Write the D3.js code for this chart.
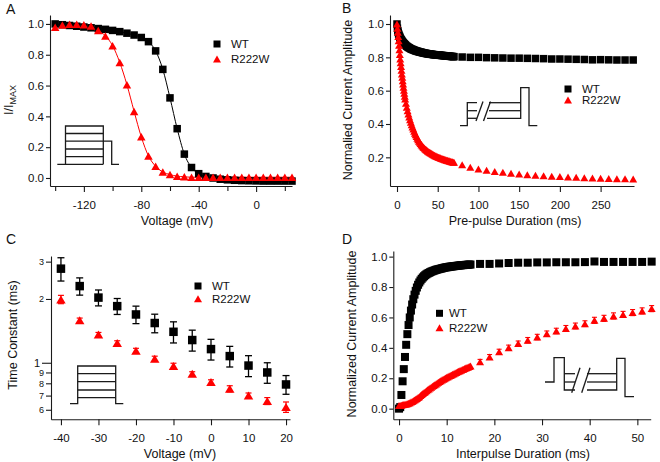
<!DOCTYPE html>
<html>
<head>
<meta charset="utf-8">
<script src="https://cdn.jsdelivr.net/npm/d3@7"></script>
<style>
  body { margin: 0; background: #fff; }
  svg { display: block; }
</style>
</head>
<body>
<script>
// Global settings
const width = 660, height = 462;
const FONT = '"Liberation Sans", Arial, Helvetica, sans-serif';
const RED = '#ff0000';
const INK = '#1a1a1a';

// ---- Panel A : steady-state inactivation ----
const voltA = [-140,-135,-130,-125,-120,-115,-110,-105,-100,-95,-90,-85,-80,-75,-70,-65,-60,-55,-50,-45,-40,-35,-30,-25,-20,-15,-10,-5,0,5,10,15,20,25];
const wtA = [1.0,0.995,0.99,0.985,0.98,0.975,0.97,0.965,0.958,0.95,0.94,0.928,0.912,0.885,0.825,0.705,0.52,0.32,0.155,0.068,0.028,0.01,0.0,-0.008,-0.012,-0.015,-0.017,-0.018,-0.019,-0.02,-0.02,-0.02,-0.02,-0.02];
const mutA = [0.978,0.993,0.998,0.998,0.995,0.987,0.957,0.922,0.859,0.75,0.605,0.432,0.267,0.143,0.076,0.039,0.022,0.012,0.008,0.005,0.005,0.005,0.005,0.005,0.005,0.005,0.005,0.005,0.005,0.005,0.005,0.005,0.005,0.005];
const ticksAx = [-120,-80,-40,0];
const minorAx = [-140,-100,-60,-20,20];
const ticksAy = [0,0.2,0.4,0.6,0.8,1.0];

// ---- Panel B : development of inactivation ----
const timeB = [0,0.5,1,1.5,2,2.5,3,3.5,4,4.5,5,5.5,6,6.5,7,7.5,8,8.5,9,9.5,10,
               11,12,13,14,15,16,17,18,19,20,21,22,23,24,25,26,27,28,29,30,
               31,32,33,34,35,36,37,38,39,40,41,42,43,44,45,46,47,48,49,50,
               51,52,53,54,55,56,57,58,59,60,61,62,63,64,65,66,67,68,69,70,
               80,90,100,110,120,130,140,150,160,170,180,190,200,210,220,230,240,250,260,270,280,290];
const wtB = [1.0,0.975,0.96,0.95,0.94,0.933,0.927,0.921,0.915,0.91,0.906,0.902,0.898,0.894,0.891,0.888,0.885,0.882,0.88,0.877,0.875,
             0.871,0.867,0.863,0.86,0.857,0.854,0.851,0.849,0.847,0.845,
             0.843,0.841,0.839,0.838,0.836,0.835,0.833,0.832,0.831,0.83,
             0.828,0.827,0.826,0.825,0.824,0.823,0.822,0.821,0.821,0.82,
             0.819,0.818,0.818,0.817,0.816,0.816,0.815,0.815,0.814,0.814,
             0.813,0.813,0.812,0.812,0.811,0.811,0.81,0.81,0.809,0.809,
             0.808,0.808,0.807,0.807,0.806,0.806,0.805,0.805,0.804,0.804,
             0.802,0.80,0.80,0.798,0.797,0.796,0.795,0.795,0.794,0.793,0.792,0.79,0.79,0.789,0.788,0.787,0.785,0.786,0.785,0.784,0.784,0.784];
const mutB = [1.0,0.975,0.95,0.925,0.90,0.872,0.845,0.817,0.79,0.767,0.745,0.722,0.70,0.68,0.66,0.64,0.62,0.602,0.585,0.567,0.55,
              0.525,0.50,0.48,0.46,0.442,0.425,0.41,0.395,0.382,0.37,
              0.357,0.345,0.335,0.325,0.315,0.305,0.297,0.29,0.283,0.276,
              0.27,0.264,0.259,0.254,0.249,0.245,0.241,0.237,0.233,0.23,
              0.227,0.224,0.221,0.218,0.215,0.213,0.21,0.208,0.205,0.203,
              0.201,0.199,0.197,0.195,0.193,0.191,0.19,0.188,0.186,0.185,
              0.183,0.182,0.18,0.179,0.177,0.176,0.174,0.173,0.171,0.17,
              0.155,0.14,0.13,0.122,0.115,0.11,0.105,0.10,0.096,0.093,0.09,0.087,0.085,0.082,0.08,0.078,0.076,0.075,0.073,0.072,0.071,0.07];
const ticksBx = [0,50,100,150,200,250];
const ticksBy = [0.2,0.4,0.6,0.8,1.0];

// ---- Panel C : time constants ----
const voltC = [-40,-35,-30,-25,-20,-15,-10,-5,0,5,10,15,20];
const wtC = [2.78,2.30,2.03,1.85,1.69,1.54,1.40,1.28,1.16,1.075,0.97,0.90,0.79];
const wtCErr = [0.35,0.215,0.175,0.16,0.16,0.155,0.16,0.145,0.13,0.12,0.11,0.10,0.08];
const mutC = [1.99,1.585,1.36,1.24,1.14,1.044,0.965,0.887,0.811,0.754,0.70,0.66,0.618];
const mutCErr = [0.09,0.04,0.03,0.03,0.03,0.03,0.03,0.02,0.02,0.025,0.02,0.025,0.035];
const ticksCx = [-40,-30,-20,-10,0,10,20];
const ticksCy = [0.6,0.7,0.8,0.9,1,2,3];
const labelsCy = ['6','7','8','9','1','2','3'];

// ---- Panel D : recovery from inactivation ----
const timeD = [0,0.25,0.5,0.75, 1,1.25,1.5,1.75, 2,2.25,2.5,2.75, 3,3.25,3.5,3.75, 4,4.25,4.5,4.75,
               5,5.25,5.5,5.75, 6,6.25,6.5,6.75, 7,7.25,7.5,7.75, 8,8.25,8.5,8.75, 9,9.25,9.5,9.75,
               10,10.25,10.5,10.75, 11,11.25,11.5,11.75, 12,12.25,12.5,12.75, 13,13.25,13.5,13.75, 14,14.25,14.5,14.75, 15,
               17,19,21,23,25,27,29,31,33,35,37,39,41,43,45,47,49,51,53];
const wtD = [0.0,0.01,0.09,0.18, 0.26,0.34,0.42,0.49, 0.55,0.60,0.645,0.685, 0.72,0.75,0.775,0.797, 0.815,0.83,0.843,0.854,
             0.863,0.871,0.878,0.884, 0.889,0.893,0.897,0.901, 0.904,0.907,0.91,0.913, 0.915,0.917,0.919,0.921, 0.923,0.925,0.927,0.929,
             0.93,0.931,0.933,0.934, 0.935,0.936,0.937,0.938, 0.939,0.94,0.941,0.942, 0.943,0.944,0.944,0.945, 0.946,0.946,0.947,0.948, 0.948,
             0.952,0.952,0.955,0.958,0.96,0.96,0.962,0.962,0.963,0.963,0.963,0.964,0.968,0.965,0.965,0.965,0.965,0.965,0.967];
const mutD = [0.02,0.021,0.023,0.025, 0.027,0.029,0.031,0.033, 0.036,0.039,0.043,0.047, 0.052,0.057,0.062,0.067, 0.073,0.079,0.086,0.093,
              0.1,0.106,0.112,0.118, 0.124,0.13,0.136,0.141, 0.147,0.152,0.158,0.163, 0.168,0.173,0.178,0.183, 0.188,0.193,0.197,0.202,
              0.206,0.21,0.214,0.218, 0.222,0.226,0.23,0.234, 0.238,0.242,0.246,0.25, 0.253,0.257,0.26,0.264, 0.267,0.271,0.274,0.278, 0.281,
              0.309,0.34,0.375,0.401,0.428,0.45,0.471,0.493,0.511,0.528,0.544,0.559,0.581,0.594,0.61,0.62,0.632,0.643,0.658];
const mutDErr = [0.015,0.016,0.016,0.017,0.017,0.018,0.018,0.018,0.018,0.019,0.019,0.019,0.02,0.02,0.02,0.02,0.02,0.02,0.02];
const ticksDx = [0,10,20,30,40,50];
const ticksDy = [0,0.2,0.4,0.6,0.8,1.0];

const seriesNames = ['WT', 'R222W'];

// Canvas
const svg = d3.select('body').append('svg')
    .attr('width', width)
    .attr('height', height)
    .style('background', 'white')
    .attr('font-family', FONT);

// Axes with Igor-like look
function drawAxes(x, y, o) {
    const y0 = y.range()[0], x0 = x.range()[0];
    const gx = svg.append('g')
        .attr('transform', `translate(0,${y0})`)
        .call(d3.axisBottom(x).tickValues(o.xTicks).tickFormat(d => String(d))
            .tickSize(6).tickSizeOuter(0).tickPadding(9));
    const gy = svg.append('g')
        .attr('transform', `translate(${x0},0)`)
        .call(d3.axisLeft(y).tickValues(o.yTicks).tickFormat(o.yFmt)
            .tickSize(o.ySize || 4).tickSizeOuter(0).tickPadding(2));
    if (o.xMinor) {
        svg.append('g')
            .attr('transform', `translate(0,${y0})`)
            .call(d3.axisBottom(x).tickValues(o.xMinor).tickFormat('').tickSize(5).tickSizeOuter(0))
            .call(g => g.select('.domain').remove());
    }
    svg.selectAll('.tick line, .domain').attr('stroke', INK).attr('stroke-width', 1.1);
    [gx, gy].forEach(g => g.attr('font-family', FONT).attr('font-size', 11.5)
        .selectAll('text').attr('fill', '#111'));
    return { gx, gy };
}

function axisTitles(xt, yt) {
    svg.append('text')
        .attr('x', xt.x).attr('y', xt.y)
        .attr('text-anchor', 'middle').attr('font-size', 12.5).attr('fill', '#111')
        .text(xt.text);
    const t = svg.append('text')
        .attr('transform', `translate(${yt.x},${yt.y}) rotate(-90)`)
        .attr('text-anchor', 'middle').attr('font-size', 12.5).attr('fill', '#111');
    if (yt.sub) {
        t.append('tspan').text(yt.text);
        t.append('tspan').attr('font-size', 9).attr('dy', 3).text(yt.sub);
    } else {
        t.text(yt.text);
    }
}

function panelLabel(txt, px, py) {
    svg.append('text').attr('x', px).attr('y', py)
        .attr('font-size', 14).attr('fill', '#111').text(txt);
}

function pairs(xs, ys) { return xs.map((d, i) => [d, ys[i]]); }

function triPath(w, h) {
    return `M0,${-h / 2}L${w / 2},${h / 2}L${-w / 2},${h / 2}Z`;
}

function squares(x, y, data, size, color) {
    svg.append('g').selectAll('rect').data(data).join('rect')
        .attr('x', d => x(d[0]) - size / 2)
        .attr('y', d => y(d[1]) - size / 2)
        .attr('width', size).attr('height', size)
        .attr('fill', color || '#000');
}

function triangles(x, y, data, w, h, color) {
    svg.append('g').selectAll('path').data(data).join('path')
        .attr('d', triPath(w, h))
        .attr('transform', d => `translate(${x(d[0])},${y(d[1])})`)
        .attr('fill', color || RED);
}

function errorBars(x, y, xs, ys, errs, color, cap, sw) {
    const g = svg.append('g').attr('stroke', color).attr('stroke-width', sw).attr('fill', 'none');
    xs.forEach((v, i) => {
        const cx = x(v), top = y(ys[i] + errs[i]), bot = y(ys[i] - errs[i]);
        g.append('line').attr('x1', cx).attr('x2', cx).attr('y1', top).attr('y2', bot);
        g.append('line').attr('x1', cx - cap / 2).attr('x2', cx + cap / 2).attr('y1', top).attr('y2', top);
        g.append('line').attr('x1', cx - cap / 2).attr('x2', cx + cap / 2).attr('y1', bot).attr('y2', bot);
    });
}

function legend(mx, tx, y1, y2) {
    svg.append('rect').attr('x', mx - 3.5).attr('y', y1 - 3.5).attr('width', 7).attr('height', 7).attr('fill', '#000');
    svg.append('path').attr('d', triPath(8, 7)).attr('transform', `translate(${mx},${y2})`).attr('fill', RED);
    [[seriesNames[0], y1], [seriesNames[1], y2]].forEach(([s, yy]) => {
        svg.append('text').attr('x', tx).attr('y', yy).attr('dy', '0.36em')
            .attr('font-size', 11.5).attr('fill', '#111').text(s);
    });
}

// Voltage protocol sketches (drawn in pixel space)
function sketch(lines) {
    const g = svg.append('g')
        .attr('fill', 'none').attr('stroke', INK).attr('stroke-width', 1.3);
    lines.forEach(pts => g.append('polyline').attr('points', pts.map(p => p.join(',')).join(' ')));
}

// ================= Panel A =================
{
    const x = d3.scaleLinear().domain([-143.6, 25]).range([50, 292]);
    const y = d3.scaleLinear().domain([-0.052, 1.058]).range([186, 15]);
    drawAxes(x, y, { xTicks: ticksAx, xMinor: minorAx, yTicks: ticksAy, yFmt: d3.format('.1f') });
    axisTitles({ x: 177, y: 225, text: 'Voltage (mV)' }, { x: 13, y: 100, text: 'I/I', sub: 'MAX' });
    panelLabel('A', 6, 14);

    const fit = d3.line().x(d => x(d[0])).y(d => y(d[1])).curve(d3.curveMonotoneX);
    svg.append('path').attr('d', fit(pairs(voltA, wtA))).attr('fill', 'none').attr('stroke', '#000').attr('stroke-width', 1);
    svg.append('path').attr('d', fit(pairs(voltA, mutA))).attr('fill', 'none').attr('stroke', RED).attr('stroke-width', 1);
    squares(x, y, pairs(voltA, wtA), 7.5);
    triangles(x, y, pairs(voltA, mutA), 8.5, 7.5);
    legend(217, 231, 44, 59);

    sketch([
        [[57.3, 164.3], [103.3, 164.3]],
        [[65.5, 164.3], [65.5, 126], [103.3, 126], [103.3, 164.3]],
        [[65.5, 133.5], [103.3, 133.5]],
        [[103.3, 141.2], [65.5, 141.2]],
        [[65.5, 149], [103.3, 149]],
        [[65.5, 156.7], [103.3, 156.7]],
        [[103.3, 141.2], [111.7, 141.2], [111.7, 164.3], [119, 164.3]]
    ]);
}

// ================= Panel B =================
{
    const x = d3.scaleLinear().domain([-8.6, 291]).range([390, 634]);
    const y = d3.scaleLinear().domain([0.028, 1.054]).range([186, 15]);
    drawAxes(x, y, { xTicks: ticksBx, yTicks: ticksBy, yFmt: d3.format('.1f') });
    axisTitles({ x: 515, y: 225, text: 'Pre-pulse Duration (ms)' }, { x: 352, y: 100, text: 'Normalied Current Amplitude' });
    panelLabel('B', 342, 13);

    squares(x, y, pairs(timeB, wtB), 7.5);
    triangles(x, y, pairs(timeB, mutB), 8, 7);
    legend(568, 582, 89, 100);

    sketch([
        [[460, 125.7], [467.3, 125.7], [467.3, 102.7], [477, 102.7]],
        [[467.3, 110.7], [477, 110.7]],
        [[467.3, 118.3], [477, 118.3]],
        [[476, 121], [483, 101.5]],
        [[483.5, 121], [490.5, 101.5]],
        [[489, 102.7], [520.7, 102.7]],
        [[489, 110.7], [520.7, 110.7]],
        [[487, 118.3], [520.7, 118.3], [520.7, 87.7], [529, 87.7], [529, 125.7], [537.3, 125.7]]
    ]);
}

// ================= Panel C =================
{
    const x = d3.scaleLinear().domain([-42.65, 21.06]).range([51, 290]);
    const y = d3.scaleLog().domain([0.541, 3.19]).range([419.3, 256]);
    const { gy } = drawAxes(x, y, { xTicks: ticksCx, yTicks: ticksCy, yFmt: (d, i) => labelsCy[i], ySize: 5 });
    gy.selectAll('.tick').each(function (d) {
        const t = d3.select(this);
        if (d === 1) {
            t.select('line').attr('x2', -9);
            t.select('text').attr('x', -11).attr('font-size', 11);
        } else {
            t.select('text').attr('font-size', 9);
        }
    });
    axisTitles({ x: 180, y: 457.5, text: 'Voltage (mV)' }, { x: 17, y: 335, text: 'Time Constant (ms)' });
    panelLabel('C', 6, 244);

    errorBars(x, y, voltC, wtC, wtCErr, '#000', 7, 1.3);
    errorBars(x, y, voltC, mutC, mutCErr, RED, 6, 1.2);
    squares(x, y, pairs(voltC, wtC), 8.5);
    triangles(x, y, pairs(voltC, mutC), 9.5, 8);
    legend(198, 212, 286, 298.7);

    sketch([
        [[70, 403.7], [77.7, 403.7], [77.7, 366], [115.7, 366], [115.7, 403.7], [123.3, 403.7]],
        [[77.7, 373.7], [115.7, 373.7]],
        [[77.7, 381.7], [115.7, 381.7]],
        [[77.7, 390], [115.7, 390]],
        [[77.7, 397.7], [115.7, 397.7]]
    ]);
}

// ================= Panel D =================
{
    const x = d3.scaleLinear().domain([-1.2, 52.8]).range([393.3, 650.7]);
    const y = d3.scaleLinear().domain([-0.07, 1.037]).range([419.3, 251]);
    drawAxes(x, y, { xTicks: ticksDx, yTicks: ticksDy, yFmt: d3.format('.1f') });
    axisTitles({ x: 523, y: 457.5, text: 'Interpulse Duration (ms)' }, { x: 356, y: 334, text: 'Normalized Current Amplitude' });
    panelLabel('D', 342, 244);

    const nSparse = mutDErr.length;
    errorBars(x, y, timeD.slice(-nSparse), mutD.slice(-nSparse), mutDErr, RED, 5, 1.1);
    squares(x, y, pairs(timeD, wtD), 8);
    triangles(x, y, pairs(timeD, mutD), 8, 7);
    legend(439.5, 449, 313.3, 327.7);

    sketch([
        [[545, 382], [554, 382], [554, 357.7], [564.3, 357.7], [564.3, 390], [575, 390]],
        [[564.3, 373.7], [575, 373.7]],
        [[564.3, 382], [575, 382]],
        [[571.7, 392.7], [580, 367.7]],
        [[581.7, 392.7], [590, 367.7]],
        [[587, 373.7], [616.7, 373.7]],
        [[587, 382], [616.7, 382]],
        [[587, 390], [616.7, 390], [616.7, 358.3], [625, 358.3], [625, 396.7], [634, 396.7]]
    ]);
}
</script>
</body>
</html>
